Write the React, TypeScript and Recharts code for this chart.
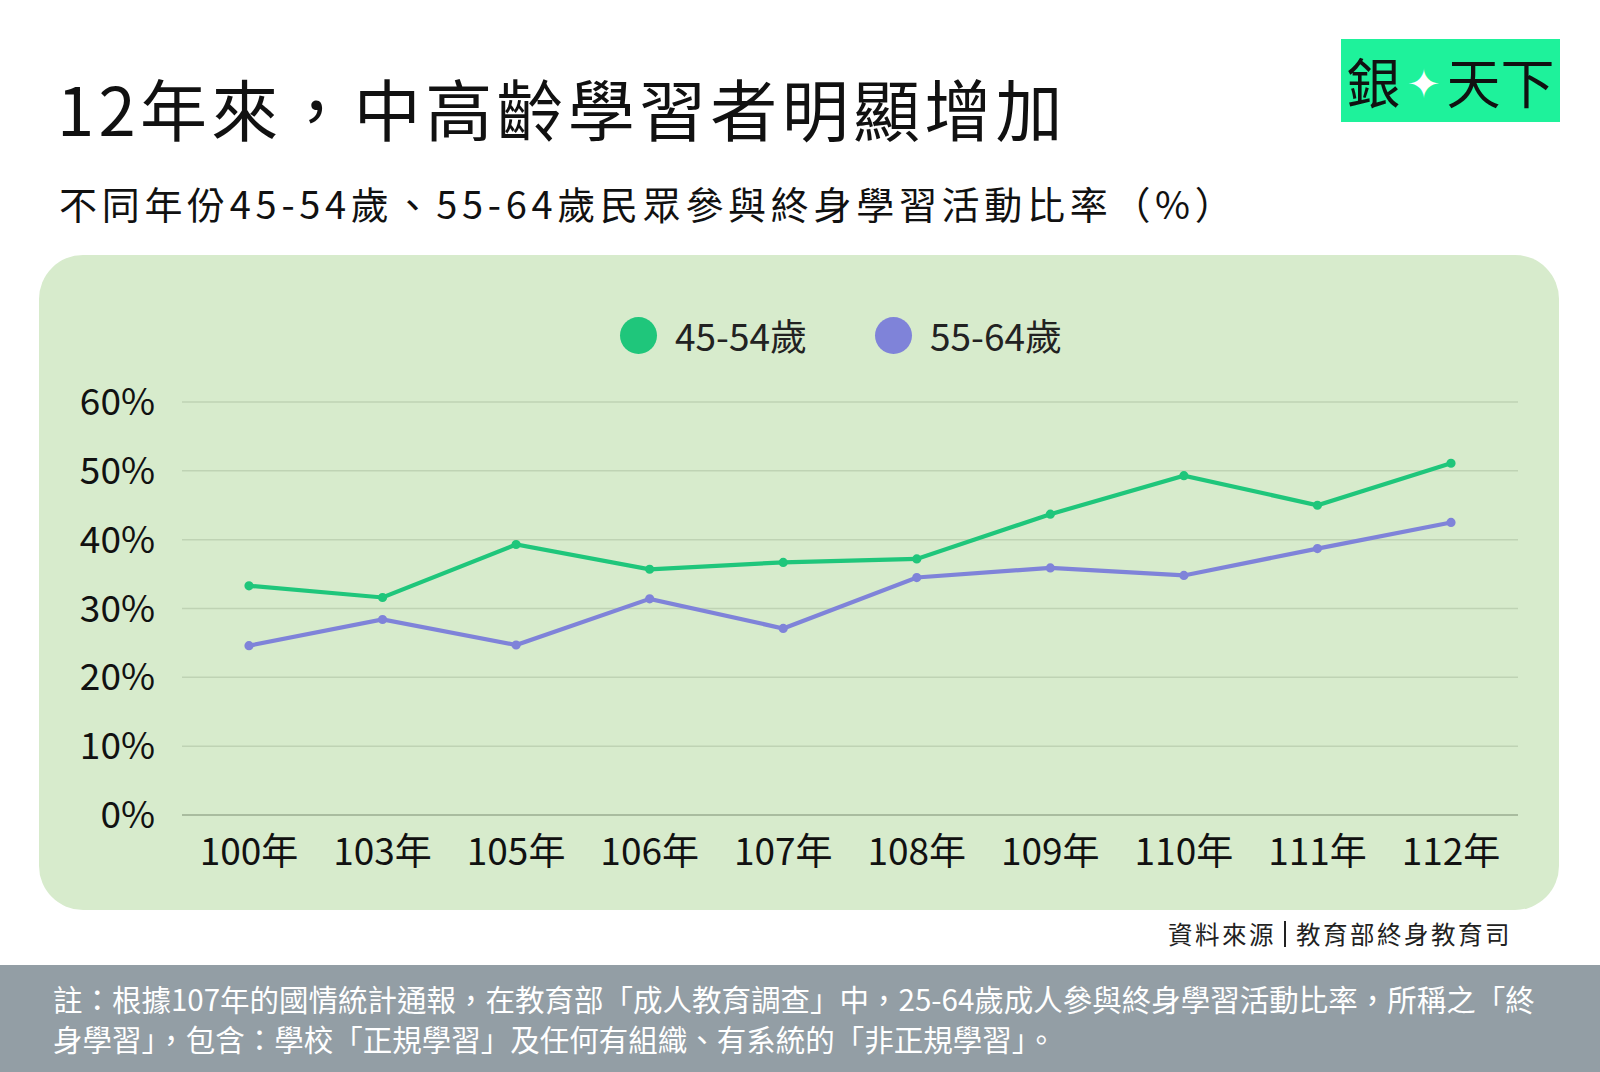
import { CartesianGrid, Line, LineChart, XAxis, YAxis } from 'recharts'

const years = ['100年', '103年', '105年', '106年', '107年', '108年', '109年', '110年', '111年', '112年']
const age4554 = [33.3, 31.6, 39.3, 35.7, 36.7, 37.2, 43.7, 49.3, 45.0, 51.1]
const age5564 = [24.6, 28.4, 24.7, 31.4, 27.1, 34.5, 35.9, 34.8, 38.7, 42.5]
const yTicks = [0, 10, 20, 30, 40, 50, 60]

const data = years.map((year, i) => ({ year, a: age4554[i], b: age5564[i] }))

const FONT = '"Noto Sans CJK TC", "Noto Sans", sans-serif'

const series = [
  { key: 'a', label: '45-54歲', color: '#1fc67b', left: 620 },
  { key: 'b', label: '55-64歲', color: '#7f83d9', left: 875 },
]

export default function App() {
  return (
    <div style={{ position: 'absolute', left: 0, top: 0, width: 1600, height: 1072, background: '#fff', overflow: 'hidden', fontFamily: FONT }}>
      <div style={{ position: 'absolute', left: 57, top: 73, fontSize: 67, fontWeight: 400, letterSpacing: 4.3, color: '#111', lineHeight: 1, whiteSpace: 'nowrap' }}>
        12年來，中高齡學習者明顯增加
      </div>
      <div style={{ position: 'absolute', left: 59, top: 184, fontSize: 38, letterSpacing: 4.7, color: '#111', lineHeight: 1, whiteSpace: 'nowrap' }}>
        不同年份45-54歲、55-64歲民眾參與終身學習活動比率（%）
      </div>
      <div style={{ position: 'absolute', left: 1341, top: 39, width: 219, height: 83, background: '#1ef29b', display: 'flex', alignItems: 'center', justifyContent: 'center', fontSize: 54, color: '#111', lineHeight: 1 }}>
        <span>銀</span>
        <span style={{ color: '#fff', fontSize: 40, margin: '0 6px' }}>✦</span>
        <span>天下</span>
      </div>
      <div style={{ position: 'absolute', left: 39, top: 255, width: 1520, height: 655, background: '#d7ebcc', borderRadius: 44 }} />
      {series.map(s => (
        <div key={s.key} style={{ position: 'absolute', left: s.left, top: 316, height: 38, display: 'flex', alignItems: 'center', fontSize: 37, color: '#222', lineHeight: 1, whiteSpace: 'nowrap' }}>
          <span style={{ width: 37, height: 37, borderRadius: '50%', background: s.color, display: 'inline-block', marginRight: 18 }} />
          <span>{s.label}</span>
        </div>
      ))}
      <div style={{ position: 'absolute', left: 0, top: 0 }}>
        <LineChart width={1600} height={1072} data={data} margin={{ top: 402, right: 82, bottom: 227, left: 62 }}>
          <CartesianGrid horizontal vertical={false} stroke="#bfd3b4" strokeWidth={1.5} />
          <XAxis dataKey="year" height={30} padding={{ left: 67, right: 67 }} tickLine={false} tickSize={0} tickMargin={24} axisLine={{ stroke: '#a9bc9f', strokeWidth: 2 }} tick={{ fontSize: 37, fill: '#111', fontFamily: FONT }} interval={0} />
          <YAxis domain={[0, 60]} ticks={yTicks} width={120} tickFormatter={(v: number) => `${v}%`} axisLine={false} tickLine={false} tickSize={0} tickMargin={27} tick={{ fontSize: 37, fill: '#111', fontFamily: FONT }} />
          {series.map(s => (
            <Line key={s.key} type="linear" dataKey={s.key} name={s.label} stroke={s.color} strokeWidth={4.2} dot={{ r: 2.5, fill: s.color, stroke: s.color }} activeDot={false} isAnimationActive={false} />
          ))}
        </LineChart>
      </div>
      <div style={{ position: 'absolute', right: 88, top: 921, fontSize: 24.5, letterSpacing: 2.5, color: '#222', lineHeight: 1, whiteSpace: 'nowrap', display: 'flex', alignItems: 'center' }}>
        <span>資料來源</span>
        <span style={{ display: 'inline-block', width: 2, height: 26, background: '#222', margin: '0 10px 0 8px' }} />
        <span>教育部終身教育司</span>
      </div>
      <div style={{ position: 'absolute', left: 0, top: 965, width: 1600, height: 107, background: '#939ea5', color: '#fff', fontSize: 29.5, lineHeight: '40px', padding: '13px 0 0 53px', boxSizing: 'border-box', whiteSpace: 'nowrap' }}>
        <div>註：根據107年的國情統計通報，在教育部「成人教育調查」中，25-64歲成人參與終身學習活動比率，所稱之「終</div>
        <div>身學習」，包含：學校「正規學習」及任何有組織、有系統的「非正規學習」。</div>
      </div>
    </div>
  )
}
